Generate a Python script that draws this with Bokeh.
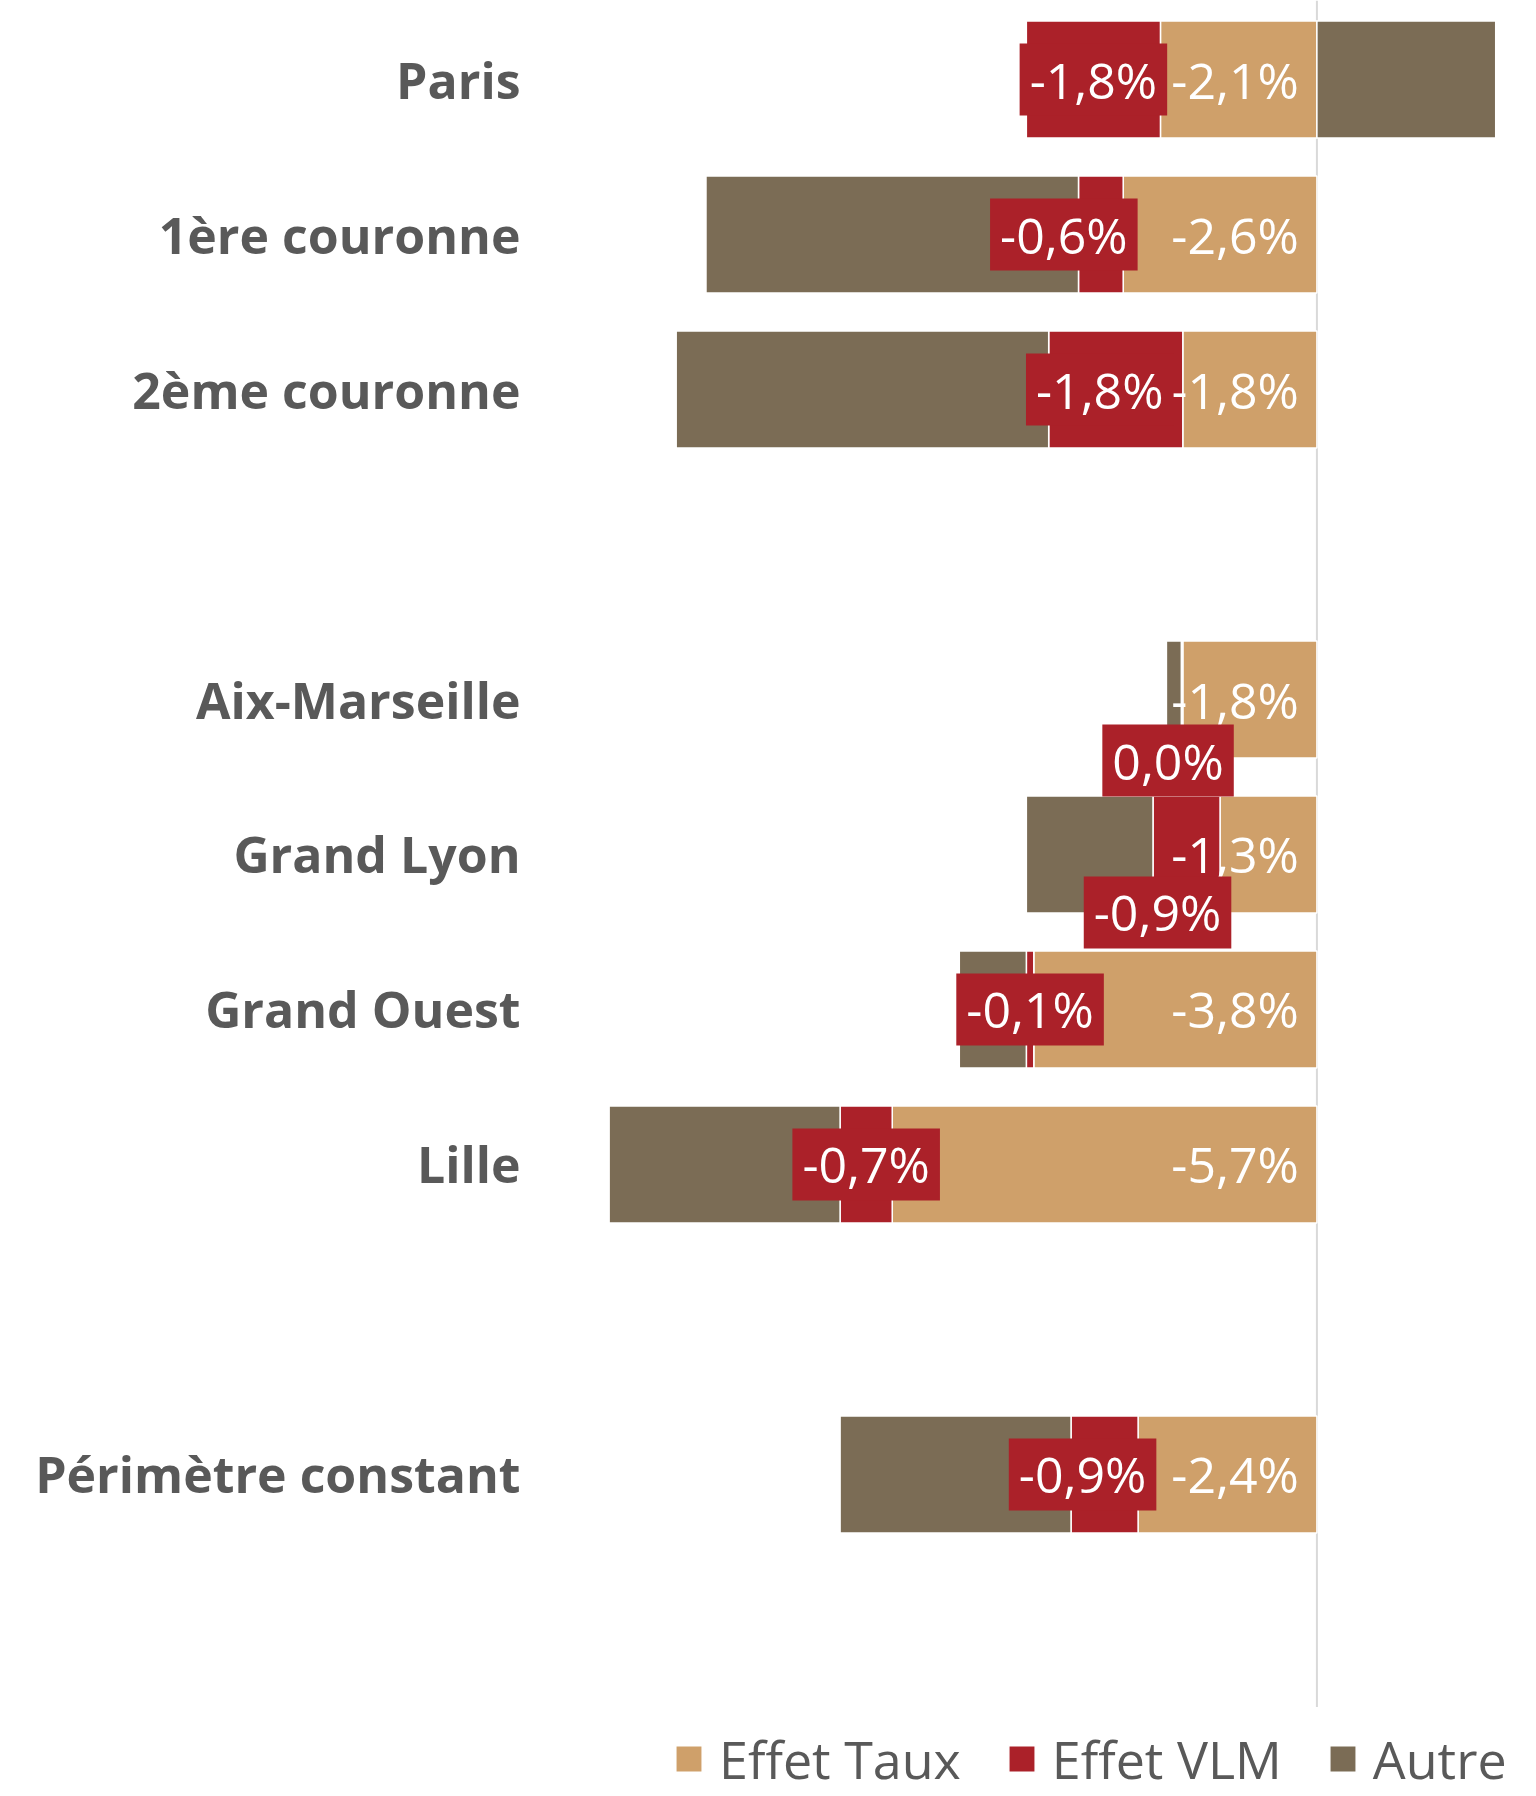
import numpy as np
from bokeh.plotting import figure
from bokeh.models import Range1d, FixedTicker, Legend, LegendItem, ColumnDataSource
from bokeh.core.properties import value
from bokeh.embed import file_html
from bokeh.resources import INLINE

# ---- data ----
categories = ["Paris", "1ère couronne", "2ème couronne", "Aix-Marseille",
              "Grand Lyon", "Grand Ouest", "Lille", "Périmètre constant"]
groups = [0, 0, 0, 1, 1, 1, 1, 2]          # blank row between groups
effet_taux = [-2.1, -2.6, -1.8, -1.8, -1.3, -3.8, -5.7, -2.4]
effet_vlm = [-1.8, -0.6, -1.8, -0.02, -0.9, -0.1, -0.7, -0.9]
autre = [2.4, -5.0, -5.0, -0.2, -1.7, -0.9, -3.1, -3.1]
series_names = ["Effet Taux", "Effet VLM", "Autre"]

# ---- styles ----
colors = ["#CFA06A", "#AB2129", "#7B6C55"]
vlm_dx = [0, -37, -16, -14, -29, 0, 0, -22]   # label shifts (px)
vlm_dy = [0, 0, 0, 61, 58, 0, 0, 0]
FONT = "Open Sans"


def fmt(v):
    s = f"{v:.1f}".replace(".", ",")
    if s == "-0,0":
        s = "0,0"
    return s + "%"


n = len(categories)
slots = np.arange(n) + np.array(groups)
n_slots = int(slots.max()) + 2

series = [np.array(effet_taux, float), np.array(effet_vlm, float), np.array(autre, float)]
neg_base = np.zeros(n)
pos_base = np.zeros(n)
lefts, rights = [], []
for s in series:
    left = np.where(s < 0, neg_base + s, pos_base)
    right = np.where(s < 0, neg_base, pos_base + s)
    neg_base = neg_base + np.minimum(s, 0)
    pos_base = pos_base + np.maximum(s, 0)
    lefts.append(left)
    rights.append(right)

W, H = 1528, 1794
p = figure(width=W, height=H, output_backend="svg", toolbar_location=None,
           x_range=Range1d(-10.26, 2.84), y_range=Range1d(11.065, -0.51),
           x_axis_location=None, min_border_left=552, min_border_right=0,
           min_border_top=0, min_border_bottom=0)
p.outline_line_color = None
p.xgrid.visible = False
p.ygrid.visible = False
p.background_fill_color = "white"

ax = p.yaxis[0]
ax.ticker = FixedTicker(ticks=[int(v) for v in slots])
ax.major_label_overrides = {int(k): c for k, c in zip(slots, categories)}
ax.axis_line_color = None
ax.major_tick_line_color = None
ax.minor_tick_line_color = None
ax.major_tick_out = 0
ax.major_label_standoff = 32
ax.major_label_text_font = FONT
ax.major_label_text_font_style = "bold"
ax.major_label_text_font_size = "50px"
ax.major_label_text_color = "#595959"

# zero line
p.segment(x0=[0], y0=[-0.51], x1=[0], y1=[n_slots - 0.5], line_color="#D9D9D9", line_width=2)

renderers = []
for name, col, l, r in zip(series_names, colors, lefts, rights):
    src = ColumnDataSource(dict(y=slots, left=l, right=r))
    rr = p.hbar(y="y", left="left", right="right", height=0.755, source=src,
                fill_color=col, line_color="white", line_width=1.5)
    renderers.append(rr)

# Effet Taux labels (inside base, right aligned)
taux_src = ColumnDataSource(dict(x=np.zeros(n), y=slots, t=[fmt(v) for v in effet_taux]))
p.text(x="x", y="y", text="t", source=taux_src, x_offset=-18, text_align="right",
       text_baseline="middle", text_color="white", text_font=value(FONT),
       text_font_size="50px")

# Effet VLM labels with red boxes
vlm_center = (lefts[1] + rights[1]) / 2
vlm_src = ColumnDataSource(dict(x=vlm_center, y=slots, t=[fmt(v) for v in effet_vlm],
                                dx=vlm_dx, dy=vlm_dy))
p.text(x="x", y="y", text="t", source=vlm_src, x_offset="dx", y_offset="dy",
       text_align="center", text_baseline="middle", text_color="white",
       text_font=value(FONT), text_font_size="50px",
       background_fill_color=colors[1],
       padding=dict(left=10, right=10, top=2, bottom=2))

legend = Legend(items=[LegendItem(label=nm, renderers=[r]) for nm, r in zip(series_names, renderers)],
                orientation="horizontal", location=(120, 0),
                label_text_font=FONT, label_text_font_size="52px", label_text_color="#595959",
                glyph_width=33, glyph_height=33, label_standoff=14, spacing=44,
                padding=0, margin=0, border_line_color=None, background_fill_alpha=0)
p.add_layout(legend)

open("out.html", "w").write(file_html(p, INLINE))
